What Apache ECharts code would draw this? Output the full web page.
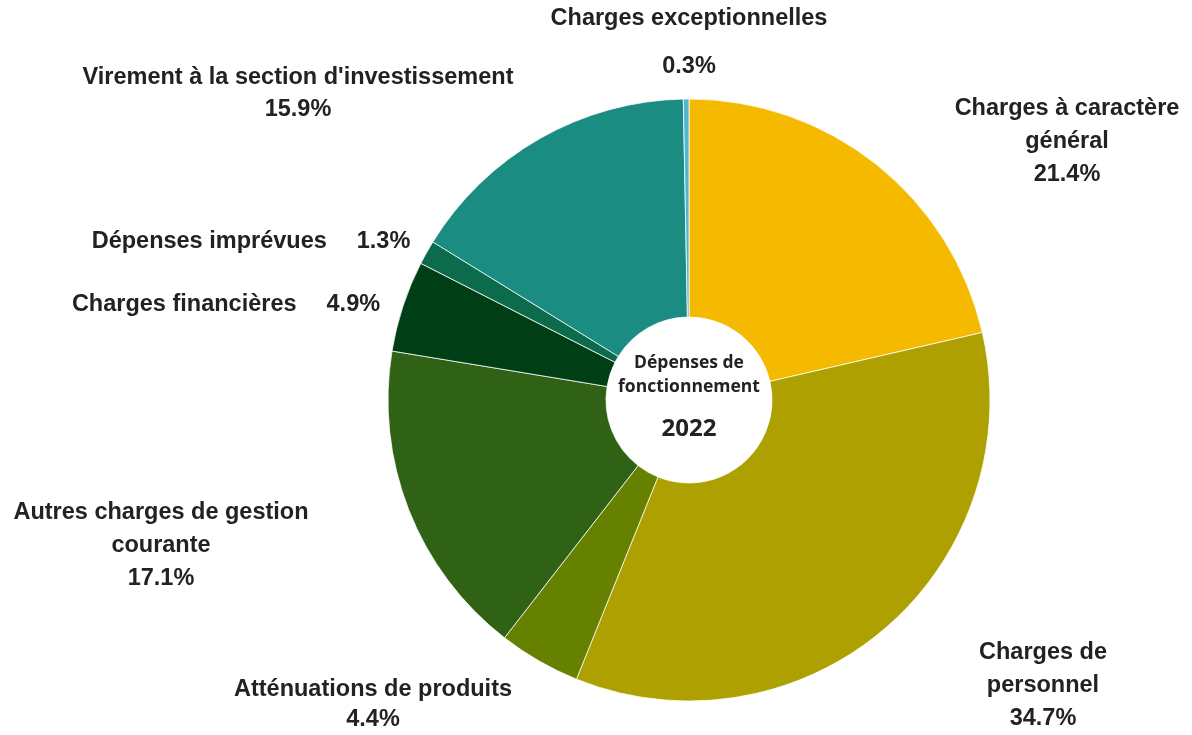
<!DOCTYPE html>
<html>
<head>
<meta charset="utf-8">
<script src="https://cdn.jsdelivr.net/npm/echarts@6/dist/echarts.min.js"></script>
<style>
  html, body { margin: 0; padding: 0; background: #fff; }
  #chart { width: 1192px; height: 735px; }
</style>
</head>
<body>
<div id="chart"></div>
<script>
// données 2022 - dépenses de fonctionnement
const categories = [
  'Charges à caractère général',
  'Charges de personnel',
  'Atténuations de produits',
  'Autres charges de gestion courante',
  'Charges financières',
  'Dépenses imprévues',
  "Virement à la section d'investissement",
  'Charges exceptionnelles'
]
const values = [21.4, 34.7, 4.4, 17.1, 4.9, 1.3, 15.9, 0.3]
const colors = ['#f5ba00', '#ada000', '#668000', '#2f6215', '#003f15', '#0b6b4b', '#1a8c82', '#4fb8d0']
// texte des étiquettes (retours à la ligne)
const labelTexts = [
  'Charges à caractère\ngénéral',
  'Charges de\npersonnel',
  'Atténuations de produits',
  'Autres charges de gestion\ncourante',
  'Charges financières',
  'Dépenses imprévues',
  "Virement à la section d'investissement",
  'Charges exceptionnelles'
]
// étiquettes en ligne (nom + % sur la même ligne)
const inlineLabels = [false, false, false, false, true, true, false, false]
// position des étiquettes (centre du bloc) et interligne
const labelPos = [
  [1067, 142], [1043, 686], [373, 705], [161, 546],
  [226, 305], [251, 242], [298, 94], [689, 43]
]
const labelLineHeights = [33, 33, 30, 33, 33, 33, 32, 48]

const myChart = echarts.init(document.getElementById('chart'))
const option = {
  animation: false,
  graphic: [
    {
      type: 'text', x: 689, y: 375, z: 100,
      style: {
        text: 'Dépenses de\nfonctionnement', fill: '#222',
        font: 'bold 17.5px "Open Sans"', lineHeight: 24,
        align: 'center', verticalAlign: 'middle'
      }
    },
    {
      type: 'text', x: 689, y: 429, z: 100,
      style: {
        text: '2022', fill: '#222', font: 'bold 24px "Open Sans"',
        align: 'center', verticalAlign: 'middle'
      }
    }
  ],
  series: [
    {
      type: 'pie',
      center: [689, 400],
      radius: [83, 301],
      startAngle: 90,
      clockwise: true,
      avoidLabelOverlap: false,
      itemStyle: { borderColor: 'rgba(255,255,255,0.75)', borderWidth: 1 },
      label: {
        show: true,
        position: 'outside',
        color: '#222',
        fontFamily: 'Liberation Sans',
        fontWeight: 'bold',
        fontSize: 23.5,
        lineHeight: 33,
        align: 'center',
        formatter: function (p) {
          const i = p.dataIndex
          const pct = values[i].toFixed(1) + '%'
          if (inlineLabels[i]) return '{n|' + labelTexts[i] + '}{p|' + pct + '}'
          return labelTexts[i] + '\n' + pct
        },
        rich: {
          n: { fontFamily: 'Liberation Sans', fontWeight: 'bold', fontSize: 23.5, color: '#222' },
          p: { fontFamily: 'Liberation Sans', fontWeight: 'bold', fontSize: 23.5, color: '#222', padding: [0, 0, 0, 30] }
        }
      },
      labelLine: { show: false },
      labelLayout: function (p) {
        const pos = labelPos[p.dataIndex]
        return { x: pos[0], y: pos[1], align: 'center', verticalAlign: 'middle' }
      },
      data: categories.map(function (name, i) {
        return {
          name: name,
          value: values[i],
          itemStyle: { color: colors[i] },
          label: { lineHeight: labelLineHeights[i] }
        }
      })
    }
  ]
}
myChart.setOption(option)
window.addEventListener('resize', function () {
  myChart.resize()
})
</script>
</body>
</html>
